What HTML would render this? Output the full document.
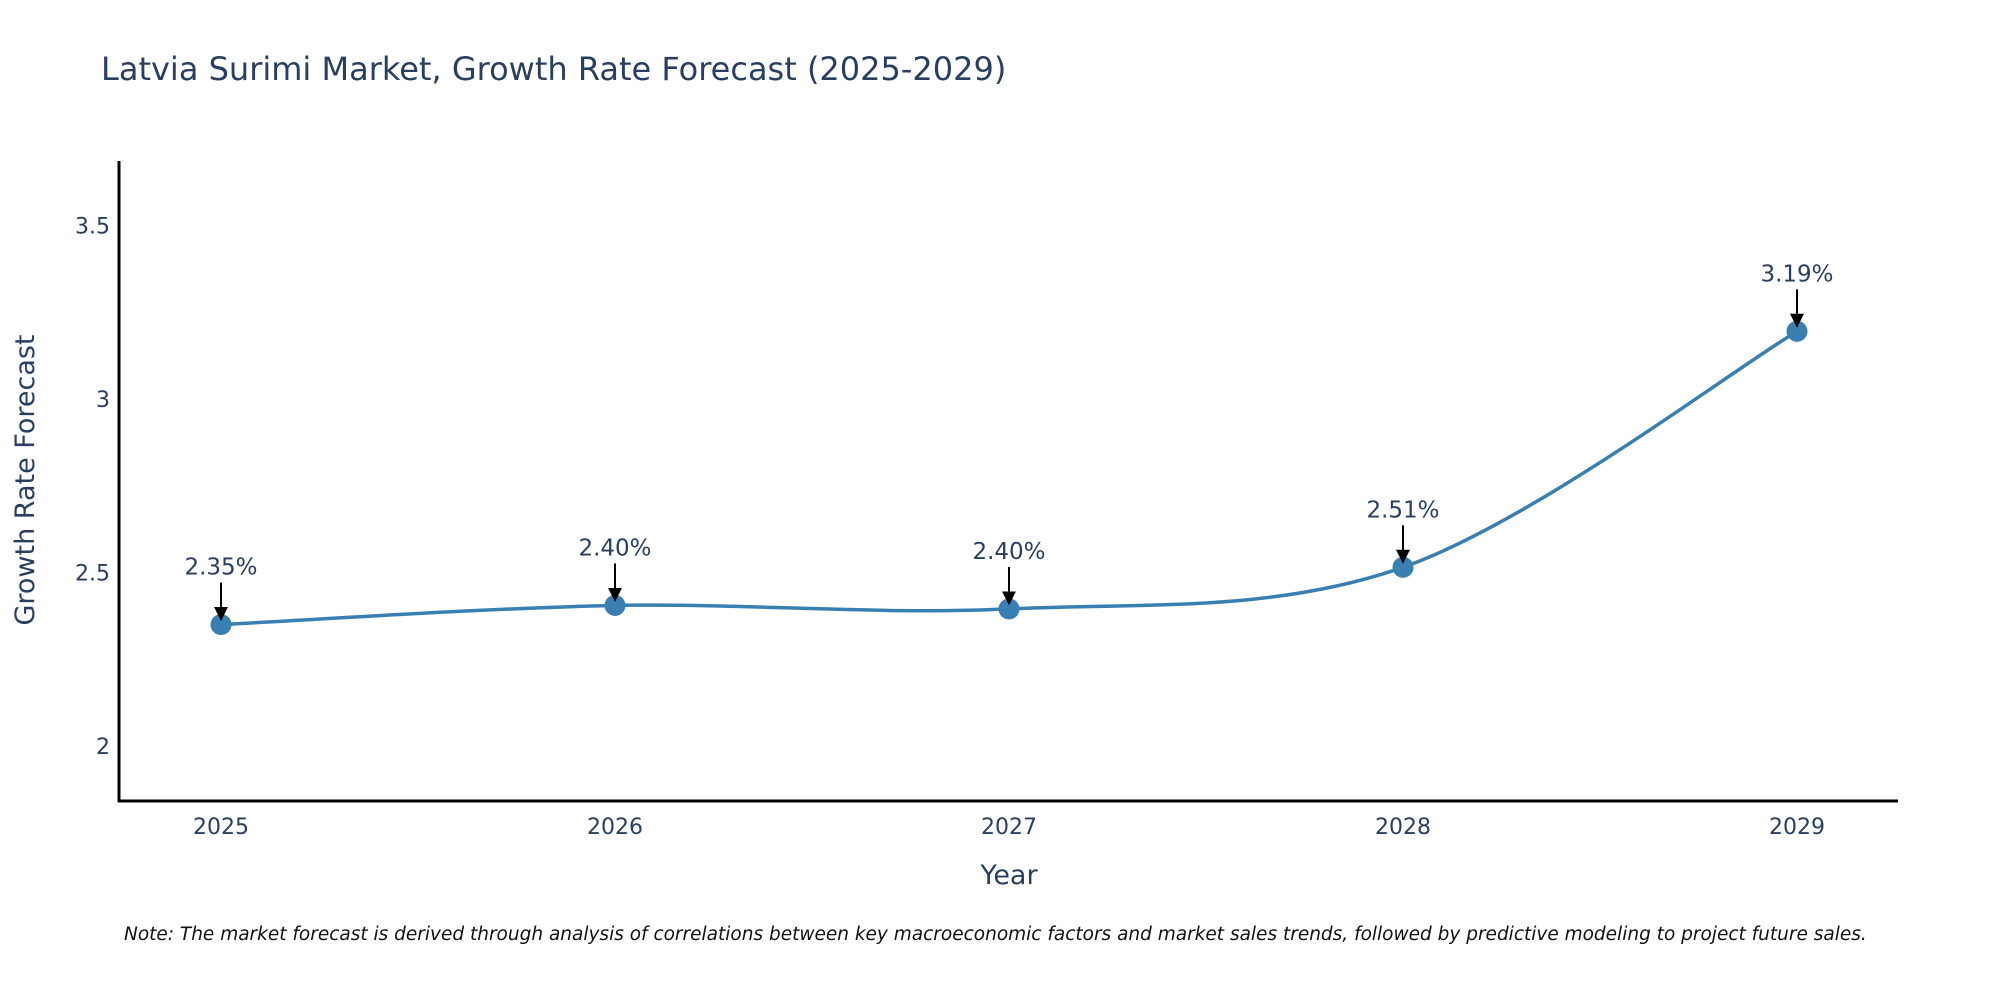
<!DOCTYPE html>
<html><head><meta charset="utf-8"><style>
html,body{margin:0;padding:0;background:#fff;}
svg{display:block;font-family:"DejaVu Sans","Liberation Sans",sans-serif;}
</style></head><body>
<svg id="chart" width="2000" height="1000" viewBox="0 0 2000 1000" xmlns="http://www.w3.org/2000/svg">
<text x="101" y="80" font-size="32" fill="#2a3f5f">Latvia Surimi Market, Growth Rate Forecast (2025-2029)</text>
<g id="yticks"></g>
<g id="xticks"></g>
<path id="line" fill="none" stroke="#3a7fb2" stroke-width="3.5"/>
<g id="points"></g>
<g id="annots"></g>
<line x1="119" y1="161" x2="119" y2="802" stroke="#000" stroke-width="3"/>
<line x1="118" y1="801" x2="1898" y2="801" stroke="#000" stroke-width="3"/>
<text x="1009" y="884" font-size="27" fill="#2a3f5f" text-anchor="middle">Year</text>
<text transform="translate(34,480) rotate(-90)" font-size="27" fill="#2a3f5f" text-anchor="middle">Growth Rate Forecast</text>
<text x="124" y="940" font-size="18.5" font-style="italic" fill="#111">Note: The market forecast is derived through analysis of correlations between key macroeconomic factors and market sales trends, followed by predictive modeling to project future sales.</text>
<defs><marker id="ah" viewBox="0 0 10 10" refX="9" refY="5" markerWidth="7" markerHeight="7" orient="auto"><path d="M0,0 L10,5 L0,10 z" fill="#000"/></marker></defs>
</svg>
<script>
const years = [2025, 2026, 2027, 2028, 2029];
const values = [2.35, 2.405, 2.395, 2.515, 3.195];
const labels = ["2.35%", "2.40%", "2.40%", "2.51%", "3.19%"];
const yTickValues = [2, 2.5, 3, 3.5];
const yTickLabels = ["2", "2.5", "3", "3.5"];
const NS = "http://www.w3.org/2000/svg";
const xScale = v => 221 + (v - 2025) * 394;
const yScale = v => 746 - (v - 2) * 347;
function mk(tag, attrs, parent, txt){const e=document.createElementNS(NS,tag);for(const k in attrs)e.setAttribute(k,attrs[k]);if(txt!==undefined)e.textContent=txt;parent.appendChild(e);return e;}
const yt=document.getElementById('yticks');
yTickValues.forEach((v,i)=>{const t=mk('text',{x:110,y:yScale(v)+8,'font-size':22,fill:'#2a3f5f','text-anchor':'end'},yt,yTickLabels[i]);

});
const xt=document.getElementById('xticks');
years.forEach(v=>{const t=mk('text',{x:xScale(v),y:834,'font-size':22,fill:'#2a3f5f','text-anchor':'middle'},xt,String(v));

});
const pts=years.map((y,i)=>[xScale(y),yScale(values[i])]);
let d=`M${pts[0][0]},${pts[0][1]}`;const tn=0.33;
for(let i=0;i<pts.length-1;i++){const p0=pts[Math.max(0,i-1)],p1=pts[i],p2=pts[i+1],p3=pts[Math.min(pts.length-1,i+2)];
const c1=[p1[0]+(p2[0]-p0[0])*tn/2,p1[1]+(p2[1]-p0[1])*tn/2];
const c2=[p2[0]-(p3[0]-p1[0])*tn/2,p2[1]-(p3[1]-p1[1])*tn/2];
d+=` C${c1[0]},${c1[1]} ${c2[0]},${c2[1]} ${p2[0]},${p2[1]}`;}
document.getElementById('line').setAttribute('d',d);
const pg=document.getElementById('points'),ag=document.getElementById('annots');
pts.forEach((p,i)=>{const c=mk('circle',{cx:p[0],cy:p[1],r:10.5,fill:'#3a7fb2'},pg);


const l=mk('line',{x1:p[0],y1:p[1]-42,x2:p[0],y2:p[1]-5,stroke:'#000','stroke-width':2,'marker-end':'url(#ah)'},ag);


const t=mk('text',{x:p[0],y:p[1]-50,'font-size':23,fill:'#2a3f5f','text-anchor':'middle'},ag,labels[i]);

});
</script>
</body></html>
